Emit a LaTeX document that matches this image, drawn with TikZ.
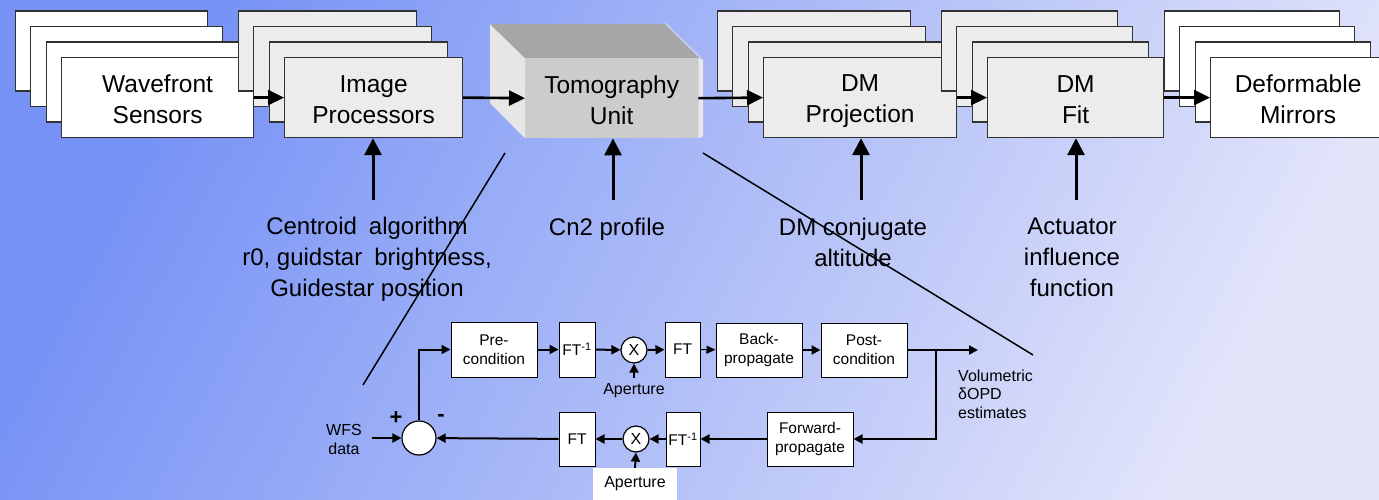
\documentclass[tikz,border=0pt]{standalone}
\usepackage{fontspec}
\setmainfont{Liberation Sans}
\usetikzlibrary{arrows.meta}
\definecolor{bgA}{RGB}{118,146,245}
\definecolor{bgB}{RGB}{226,228,250}
\definecolor{boxline}{RGB}{50,50,50}
\definecolor{pgray}{RGB}{236,236,236}
\definecolor{tfront}{RGB}{204,204,204}
\definecolor{tleft}{RGB}{230,230,230}
\definecolor{ttop}{RGB}{166,166,166}
\definecolor{tright}{RGB}{232,232,232}
\definecolor{tedge}{RGB}{215,215,215}
\newcommand\bstr{\rule[-3pt]{0pt}{27pt}}
\newcommand\mystack[5]{%
  \foreach \k in {3,2,1}
    \node[stk, fill=#4, minimum width=#3pt] (#1-\k) at (#2-15.5*\k, 57-15.5*\k) {};
  \node[stk, fill=#4, minimum width=#3pt] (#1) at (#2,57) {#5};}
\tikzset{
  stk/.style={draw=boxline, line width=1.2pt, inner sep=0pt, anchor=north west,
    minimum height=80pt, align=center, font=\fontsize{24.5}{31}\selectfont},
  bigarr/.style={line width=2.6pt, -{Triangle[length=16pt,width=15pt]}},
  vbigarr/.style={line width=3pt, -{Triangle[length=17pt,width=17pt]}},
  lbl/.style={align=center, anchor=base, inner sep=0pt, font=\fontsize{24}{31}\selectfont},
  sbox/.style={draw=black, line width=1pt, fill=white, inner sep=0pt, align=center,
    font=\fontsize{15.5}{19}\selectfont},
  scirc/.style={draw=black, line width=1.2pt, fill=white, circle, inner sep=0pt, font=\fontsize{16}{18}\selectfont},
  sarr/.style={line width=2pt, -{Triangle[length=9pt,width=9pt]}},
  slbl/.style={inner sep=0pt, align=center, font=\fontsize{16}{18.5}\selectfont},
  zline/.style={line width=1.5pt}
}
\begin{document}
\begin{tikzpicture}[x=1pt,y=-1pt]
\clip (0,0) rectangle (1379,500);
\shade[top color=bgA, bottom color=bgB, shading angle=62] (0,0) rectangle (1379,500);

% top row stacks
\mystack{wfs}{61}{192}{white}{\bstr Wavefront\\\bstr Sensors}
\mystack{ip}{284}{178}{pgray}{\bstr Image\\\bstr Processors}
\mystack{dmp}{763}{193}{pgray}{\bstr DM\\\bstr Projection}
\mystack{dmf}{987}{176}{pgray}{\bstr DM\\\bstr Fit}
\mystack{dm}{1210}{175}{white}{\bstr Deformable\\\bstr Mirrors}

% tomography unit (3D box)
\node[fill=tfront, inner sep=0pt, minimum width=173pt, minimum height=80pt,
  anchor=north west, align=center, font=\fontsize{24.5}{31}\selectfont] (tomo) at (525,58) {\bstr Tomography\\\bstr Unit};
\fill[tleft] (tomo.north west) -- (490,24) -- (490,103) -- (tomo.south west) -- cycle;
\fill[ttop] (tomo.north west) -- (490,24) -- (665,24) -- (tomo.north east) -- cycle;
\fill[tright] (tomo.north east) -- (703,60) -- (703,136) -- (tomo.south east) -- cycle;
\draw[tedge, line width=1pt] (665,23) -- (703,60);

% top arrows
\draw[bigarr] (wfs.east) -- (ip.west);
\draw[bigarr] (ip.east) -- (tomo.west);
\draw[bigarr] (tomo.east) -- (dmp.west);
\draw[bigarr] (dmp.east) -- (dmf.west);
\draw[bigarr] (dmf.east) -- (dm.west);

% labels (base anchor = last line) and vertical arrows
\node[lbl] (l1) at (367,296) {Centroid\enspace algorithm\\r0, guidstar\enspace brightness,\\Guidestar position};
\node[lbl] (l2) at (607,235) {Cn2 profile};
\node[lbl] (l3) at (853,266) {DM conjugate\\altitude};
\node[lbl] (l4) at (1072,296) {Actuator\\influence\\function};
\coordinate (c1) at (373,200);
\coordinate (c2) at (613,200);
\coordinate (c3) at (861,200);
\coordinate (c4) at (1076,200);
\draw[vbigarr] (c1) -- (c1 |- ip.south);
\draw[vbigarr] (c2) -- (c2 |- tomo.south);
\draw[vbigarr] (c3) -- (c3 |- dmp.south);
\draw[vbigarr] (c4) -- (c4 |- dmf.south);

% zoom lines
\coordinate (z1a) at (505,153);
\coordinate (z1b) at (363,385);
\coordinate (z2a) at (703,153);
\coordinate (z2b) at (1033,355);
\draw[zline] (z1a) -- (z1b);
\draw[zline] (z2a) -- (z2b);

% bottom loop
\node[sbox, minimum width=86pt, minimum height=55pt] (pre) at (494,349.5) {Pre-\\condition};
\node[sbox, minimum width=36pt, minimum height=55pt] (fti1) at (577,349.5) {FT\textsuperscript{-1}};
\node[scirc, minimum size=26pt] (x1) at (634,350) {X};
\node[sbox, minimum width=35pt, minimum height=55pt] (ft1) at (682.5,349.5) {FT};
\node[sbox, minimum width=86pt, minimum height=54pt] (back) at (759,350) {Back-\\propagate};
\node[sbox, minimum width=86pt, minimum height=54pt] (post) at (864,350) {Post-\\condition};
\node[sbox, minimum width=86pt, minimum height=54pt] (fwd) at (810,439) {Forward-\\propagate};
\node[sbox, minimum width=34pt, minimum height=54pt] (fti2) at (683,439) {FT\textsuperscript{-1}};
\node[scirc, minimum size=26pt] (x2) at (636,439) {X};
\node[sbox, minimum width=36pt, minimum height=54pt] (ft2) at (577,439) {FT};
\node[scirc, minimum size=34pt] (sum) at (419,438) {};
\node[slbl] (ap1) at (634,391) {Aperture};
\node[slbl, fill=white, minimum width=84pt, minimum height=32pt] (ap2) at (635,484) {Aperture};
\node[slbl, anchor=base] (wfsd) at (344,454) {WFS\\data};
\node[slbl, anchor=base west, align=left] (vol) at (958,418) {Volumetric\\δOPD\\estimates};
\node[inner sep=0pt, font=\bfseries\fontsize{22}{22}\selectfont] (plus) at (396,418) {+};
\node[inner sep=0pt, font=\bfseries\fontsize{22}{22}\selectfont] (minus) at (441,418) {-};

\coordinate (vout) at (978,350);
\coordinate (br) at (936,350);
\coordinate (wfsin) at (372,438);
\coordinate (ap1top) at (634,378);

\draw[sarr] (sum.north) |- (pre.west);
\draw[sarr] (pre) -- (fti1);
\draw[sarr] (fti1) -- (x1);
\draw[sarr] (x1) -- (ft1);
\draw[line width=1pt, -{Triangle[length=9pt,width=8pt]}] (ft1) -- (back);
\draw[sarr] (back) -- (post);
\draw[sarr] (post.east) -- (vout);
\draw[sarr] (br) |- (fwd.east);
\draw[sarr] (fwd) -- (fti2);
\draw[sarr] (fti2) -- (x2);
\draw[sarr] (x2) -- (ft2);
\draw[sarr] (ft2) -- (sum);
\draw[sarr] (wfsin) -- (sum.west);
\draw[sarr] (ap1top) -- (x1.south);
\draw[sarr] (ap2.north) -- (x2.south);
\end{tikzpicture}
\end{document}
